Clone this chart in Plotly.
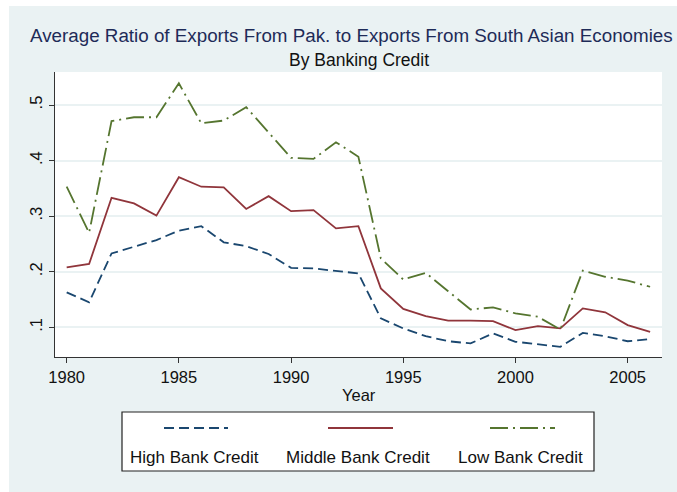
import plotly.graph_objects as go

years = list(range(1980, 2007))

high_credit = [0.163, 0.145, 0.233, 0.245, 0.257, 0.274, 0.282, 0.253, 0.246, 0.232,
               0.207, 0.206, 0.202, 0.197, 0.116, 0.098, 0.084, 0.075, 0.071, 0.089,
               0.074, 0.070, 0.065, 0.090, 0.084, 0.075, 0.079]
middle_credit = [0.208, 0.214, 0.333, 0.323, 0.301, 0.370, 0.353, 0.352, 0.313, 0.336,
                 0.309, 0.311, 0.278, 0.282, 0.170, 0.133, 0.120, 0.112, 0.112, 0.111,
                 0.095, 0.102, 0.098, 0.134, 0.127, 0.104, 0.092]
low_credit = [0.353, 0.270, 0.471, 0.478, 0.478, 0.539, 0.467, 0.472, 0.496, 0.450,
              0.405, 0.403, 0.433, 0.407, 0.224, 0.186, 0.198, 0.165, 0.132, 0.136,
              0.125, 0.119, 0.096, 0.202, 0.191, 0.184, 0.173]

series_names = ["High Bank Credit", "Middle Bank Credit", "Low Bank Credit"]
x_tick_vals = [1980, 1985, 1990, 1995, 2000, 2005]
y_tick_vals = [0.1, 0.2, 0.3, 0.4, 0.5]
y_tick_text = [".1", ".2", ".3", ".4", ".5"]

W, H = 677, 492
L, R, T, B = 55, 15, 72, 135
PW, PH = W - L - R, H - T - B

BG = "#EAF2F3"
FONT = "Liberation Sans, Arial, sans-serif"
colors = ["#1A476F", "#90353B", "#55752F"]
dashes = ["10px,5px", "solid", "18px,5px,2px,5px"]
series = [high_credit, middle_credit, low_credit]


def px_x(px):
    return (px - L) / PW


def px_y(py):
    return (H - B - py) / PH


fig = go.Figure()
for name, vals, c, d in zip(series_names, series, colors, dashes):
    fig.add_trace(go.Scatter(x=years, y=vals, mode="lines", name=name,
                             line=dict(color=c, width=1.8, dash=d),
                             showlegend=False))

shapes = []
annotations = []

# white strips along the top and left edge of the page
shapes.append(dict(type="rect", xref="paper", yref="paper",
                   x0=px_x(0), x1=px_x(9), y0=px_y(H), y1=px_y(0),
                   fillcolor="white", line=dict(width=0), layer="above"))
shapes.append(dict(type="rect", xref="paper", yref="paper",
                   x0=px_x(0), x1=px_x(W), y0=px_y(6), y1=px_y(0),
                   fillcolor="white", line=dict(width=0), layer="above"))

# legend box with key lines above the labels
shapes.append(dict(type="rect", xref="paper", yref="paper",
                   x0=px_x(122), x1=px_x(594), y0=px_y(471), y1=px_y(412),
                   fillcolor="white", line=dict(color="#222222", width=1.2),
                   layer="above"))
key_spans = [(164, 228), (328, 393), (490, 555)]
label_centers = [194.5, 358, 520.5]
for name, c, d, (k0, k1), lc in zip(series_names, colors, dashes, key_spans, label_centers):
    shapes.append(dict(type="line", xref="paper", yref="paper",
                       x0=px_x(k0), x1=px_x(k1), y0=px_y(428), y1=px_y(428),
                       line=dict(color=c, width=1.8, dash=d), layer="above"))
    annotations.append(dict(text=name, xref="paper", yref="paper",
                            x=px_x(lc), y=px_y(457), xanchor="center", yanchor="middle",
                            showarrow=False, font=dict(family=FONT, size=17, color="#111111")))

# titles
annotations.append(dict(text="Average Ratio of Exports From Pak. to Exports From South Asian Economies",
                        xref="paper", yref="paper", x=px_x(351.5), y=px_y(35),
                        xanchor="center", yanchor="middle", showarrow=False,
                        font=dict(family=FONT, size=18.8, color="#1E2B58")))
annotations.append(dict(text="By Banking Credit",
                        xref="paper", yref="paper", x=px_x(358.5), y=px_y(60),
                        xanchor="center", yanchor="middle", showarrow=False,
                        font=dict(family=FONT, size=17.5, color="#111111")))
annotations.append(dict(text="Year",
                        xref="paper", yref="paper", x=px_x(358.5), y=px_y(395),
                        xanchor="center", yanchor="middle", showarrow=False,
                        font=dict(family=FONT, size=16.5, color="#111111")))

fig.update_layout(
    width=W, height=H,
    margin=dict(l=L, r=R, t=T, b=B, pad=0),
    paper_bgcolor=BG, plot_bgcolor="white",
    shapes=shapes, annotations=annotations,
    showlegend=False,
    font=dict(family=FONT, size=16, color="#111111"),
)
fig.update_xaxes(range=[1979.48, 2006.53], tickvals=x_tick_vals,
                 showgrid=False, zeroline=False,
                 showline=True, linecolor="#333333", linewidth=1.3,
                 ticks="outside", ticklen=5, tickcolor="#333333", tickwidth=1.2,
                 tickfont=dict(family=FONT, size=16.5, color="#111111"))
fig.update_yaxes(range=[0.0466, 0.5594], tickvals=y_tick_vals, ticktext=y_tick_text,
                 tickangle=-90,
                 showgrid=True, gridcolor=BG, gridwidth=1.6, zeroline=False,
                 showline=True, linecolor="#333333", linewidth=1.3,
                 ticks="outside", ticklen=5, tickcolor="#333333", tickwidth=1.2,
                 tickfont=dict(family=FONT, size=16.5, color="#111111"))

fig.write_html("out.html")
